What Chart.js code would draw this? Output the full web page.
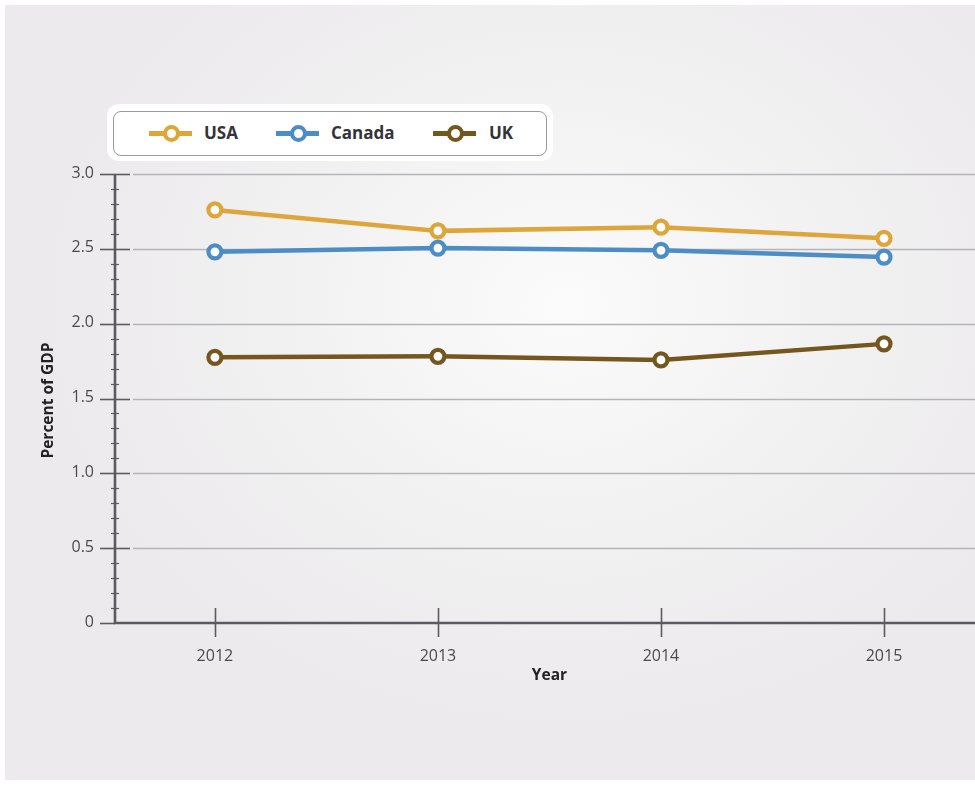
<!DOCTYPE html>
<html>
<head>
<meta charset="utf-8">
<script src="https://cdn.jsdelivr.net/npm/chart.js@4/dist/chart.umd.min.js"></script>
<style>
  html, body { margin: 0; padding: 0; background: #ffffff; }
  #wrap { position: relative; width: 975px; height: 785px; overflow: hidden; }
  #bg { position: absolute; left: 5px; top: 5px; width: 970px; height: 775px;
        background: radial-gradient(ellipse 520px 420px at 560px 300px, #fbfbfb 0%, #f2f1f2 55%, #eceaec 100%); }
  #c { position: absolute; left: 0; top: 0; }
  #legendHalo { position: absolute; left: 107px; top: 104px; width: 446px; height: 57px;
        background: #ffffff; border-radius: 12px; }
  #legend { position: absolute; left: 113px; top: 111px; width: 432px; height: 43px;
        background: #ffffff; border: 1.2px solid #9a9a9e; border-radius: 8px;
        font-family: "Open Sans", "DejaVu Sans", sans-serif; font-weight: 700; font-size: 17px; color: #333338; }
  .item { position: absolute; top: 0; height: 43px; line-height: 43px; }
  .sw { position: absolute; top: 19px; width: 43px; height: 5px; }
  .dot { position: absolute; top: -6px; left: 14px; width: 9px; height: 9px; border-radius: 50%;
         background: #fff; border-width: 4px; border-style: solid; }
  .lbl { position: absolute; top: -1px; white-space: nowrap; }
</style>
</head>
<body>
<div id="wrap">
  <div id="bg"></div>
  <canvas id="c" width="975" height="785"></canvas>
  <div id="legendHalo"></div>
  <div id="legend"></div>
</div>
<script>
// ---- data ----
const years = [2012, 2013, 2014, 2015];
const usa = [2.76, 2.62, 2.645, 2.57];
const canada = [2.48, 2.505, 2.49, 2.445];
const uk = [1.775, 1.782, 1.758, 1.865];
const yTicks = [0, 0.5, 1.0, 1.5, 2.0, 2.5, 3.0];
const seriesNames = ["USA", "Canada", "UK"];
const seriesColors = ["#dea53b", "#4b8dc4", "#74561f"];
const seriesData = [usa, canada, uk];

// ---- HTML legend ----
const legendPos = [{sw: 35, lbl: 90}, {sw: 162, lbl: 217}, {sw: 319, lbl: 375}];
const legendEl = document.getElementById('legend');
seriesNames.forEach((n, i) => {
  const it = document.createElement('div');
  it.className = 'item';
  it.style.left = '0px';
  const sw = document.createElement('div');
  sw.className = 'sw';
  sw.style.left = legendPos[i].sw + 'px';
  sw.style.background = seriesColors[i];
  const dot = document.createElement('div');
  dot.className = 'dot';
  dot.style.borderColor = seriesColors[i];
  sw.appendChild(dot);
  const lb = document.createElement('div');
  lb.className = 'lbl';
  lb.style.left = legendPos[i].lbl + 'px';
  lb.textContent = n;
  it.appendChild(sw);
  it.appendChild(lb);
  legendEl.appendChild(it);
});

// ---- axes plugin ----
const axisColor = '#5b5a60';
const gridColor = '#b4b3b7';
const axesPlugin = {
  id: 'customAxes',
  beforeDatasetsDraw(chart) {
    const ctx = chart.ctx;
    const x = chart.scales.x, y = chart.scales.y;
    const x0 = x.getPixelForValue(x.min);
    const x1 = chart.chartArea.right;
    const yTop = y.getPixelForValue(3.0);
    const yBot = y.getPixelForValue(0);
    ctx.save();
    // gridlines
    ctx.strokeStyle = gridColor;
    ctx.lineWidth = 1.3;
    yTicks.forEach(v => {
      if (v === 0) return;
      const py = Math.round(y.getPixelForValue(v)) + 0.5;
      ctx.beginPath(); ctx.moveTo(x0 + 18, py); ctx.lineTo(x1, py); ctx.stroke();
    });
    // minor ticks
    ctx.strokeStyle = axisColor;
    ctx.lineWidth = 1.2;
    for (let k = 1; k < 30; k++) {
      if (k % 5 === 0) continue;
      const py = Math.round(y.getPixelForValue(k / 10)) + 0.5;
      ctx.beginPath(); ctx.moveTo(x0 - 4, py); ctx.lineTo(x0 + 4, py); ctx.stroke();
    }
    // major ticks
    ctx.lineWidth = 1.6;
    yTicks.forEach(v => {
      const py = Math.round(y.getPixelForValue(v)) + 0.5;
      ctx.beginPath(); ctx.moveTo(x0 - 15, py); ctx.lineTo(x0 + (v === 0 ? 0 : 15), py); ctx.stroke();
    });
    // x ticks
    years.forEach(v => {
      const px = Math.round(x.getPixelForValue(v)) + 0.5;
      ctx.beginPath(); ctx.moveTo(px, yBot - 15); ctx.lineTo(px, yBot + 14); ctx.stroke();
    });
    // axis lines
    ctx.lineWidth = 2.6;
    ctx.beginPath(); ctx.moveTo(x0, yTop); ctx.lineTo(x0, yBot); ctx.lineTo(x1, yBot); ctx.stroke();
    // tick labels
    ctx.fillStyle = '#4a4a50';
    ctx.font = '16px "Open Sans", "DejaVu Sans", sans-serif';
    ctx.textAlign = 'right'; ctx.textBaseline = 'middle';
    yTicks.forEach(v => {
      const py = y.getPixelForValue(v);
      ctx.fillText(v === 0 ? '0' : v.toFixed(1), x0 - 21, py - 1);
    });
    ctx.textAlign = 'center';
    years.forEach(v => {
      ctx.fillText(String(v), x.getPixelForValue(v), yBot + 33);
    });
    // axis titles
    ctx.fillStyle = '#222226';
    ctx.font = 'bold 15.5px "Open Sans", "DejaVu Sans", sans-serif';
    ctx.fillText('Year', (x.getPixelForValue(2013) + x.getPixelForValue(2014)) / 2, yBot + 53);
    ctx.translate(49, (yTop + yBot) / 2 + 2);
    ctx.rotate(-Math.PI / 2);
    ctx.fillText('Percent of GDP', 0, 0);
    ctx.restore();
  }
};

new Chart(document.getElementById('c'), {
  type: 'line',
  data: {
    datasets: seriesNames.map((n, i) => ({
      label: n,
      data: years.map((yr, j) => ({x: yr, y: seriesData[i][j]})),
      borderColor: seriesColors[i],
      backgroundColor: '#ffffff',
      pointBackgroundColor: '#ffffff',
      pointBorderColor: seriesColors[i],
      borderWidth: 4.5,
      pointRadius: 6.5,
      pointBorderWidth: 4.2,
      pointHoverRadius: 6.5,
      tension: 0,
      fill: false
    }))
  },
  options: {
    responsive: false,
    animation: false,
    events: [],
    layout: { autoPadding: false, padding: { left: 0, right: 0, top: 174, bottom: 0 } },
    plugins: { legend: { display: false }, tooltip: { enabled: false } },
    scales: {
      x: {
        type: 'linear',
        min: 2011.552,
        max: 2015.408,
        grid: { display: false },
        border: { display: false },
        ticks: { display: false },
        afterFit(s) { s.height = 162; }
      },
      y: {
        min: 0, max: 3,
        grid: { display: false },
        border: { display: false },
        ticks: { display: false },
        afterFit(s) { s.width = 115; }
      }
    }
  },
  plugins: [axesPlugin]
});
</script>
</body>
</html>
